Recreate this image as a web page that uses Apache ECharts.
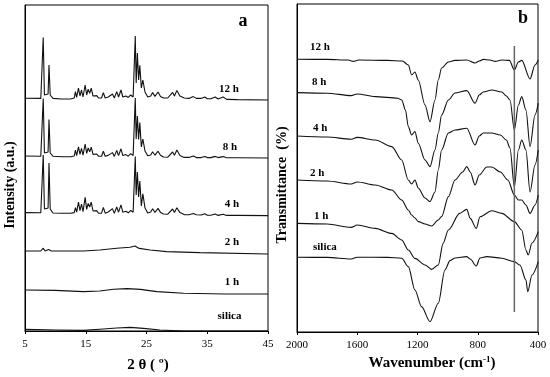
<!DOCTYPE html>
<html>
<head>
<meta charset="utf-8">
<script src="https://cdn.jsdelivr.net/npm/echarts@6/dist/echarts.min.js"></script>
<style>
html,body{margin:0;padding:0;background:#fff;}
#chart{width:550px;height:377px;}
</style>
</head>
<body>
<div id="chart"></div>
<script>
// ---------------- DATA ----------------
// Panel a: XRD (2θ in degrees, intensity in a.u., curves stacked)
const xrdTheta = [5.0,7.6,7.85,8.0,8.2,8.5,8.8,8.95,9.15,9.6,11,12.5,13.1,13.3,13.5,13.8,14.05,14.3,14.55,14.9,15.15,15.4,15.65,15.9,16.2,16.5,16.8,17.1,17.6,17.9,18.2,18.7,19.0,19.4,19.7,20.1,20.4,20.8,21.1,21.6,22.0,22.4,22.8,23.15,23.3,23.5,23.7,23.9,24.15,24.4,24.75,25.2,25.7,26.0,26.4,26.9,27.3,27.8,28.5,29.3,29.6,30.0,30.5,31.2,32.0,32.7,33.2,34.0,34.6,35.0,35.6,36.3,36.8,37.6,38.2,40,45];
const xrd12h = [116.4,116.3,117,146.8,118,117.3,118.5,133,118,116.3,116,116,116.5,119.7,116.8,121.4,117.5,120.5,117,123,118,120.9,118.8,121.4,117.5,116.8,117.7,116.5,116.5,119.2,116.5,117,116.5,118.5,116.5,119.7,117,120.5,117,117.5,116.8,118,117,147.5,124,139,125.5,132.8,121.5,125.5,119.5,117,117.5,119.2,117.3,119.5,117.3,116.5,116.5,119.3,117.5,120.3,117.5,116.5,116.3,117.2,116.3,116.3,117,116.1,116.1,117,116,117,115.8,115.7,115.5];
const xrd8h = [87.5,87.4,88.0,116.3,89.0,88.3,89.5,105.7,89.0,87.4,87.1,87.1,87.5,90.5,87.7,92.1,88.3,91.3,87.9,93.5,88.8,91.5,89.6,91.9,88.3,87.7,88.5,87.4,87.4,89.9,87.4,87.8,87.4,89.2,87.3,90.3,87.7,91.1,87.7,88.2,87.4,88.7,87.7,116.5,96,107.5,95.8,104.2,92.0,96.0,90.0,87.6,88.0,89.6,87.9,89.9,87.9,87.0,86.9,89.5,87.9,90.5,87.7,86.8,86.8,87.5,86.7,86.7,87.3,86.7,86.7,87.3,86.7,87.2,86.6,86.6,86.5];
const xrd4h = [59.2,59.1,59.8,88.0,61.0,60.5,61.5,84.0,61.0,59.0,58.9,58.9,59.2,61.7,59.4,64.4,60.2,63.5,59.7,66.8,60.8,63.8,62.0,64.4,60.0,59.3,60.2,58.9,58.9,61.8,58.9,59.5,58.9,61.2,58.8,62.0,59.4,63.1,59.4,59.9,59.1,60.3,59.4,87.2,68,79.5,67.0,75.0,62.5,68.6,61.6,59.0,59.5,61.1,59.3,61.3,59.3,58.5,58.4,61.0,59.3,61.6,59.2,58.2,58.1,58.8,58.1,58.0,58.6,57.9,57.9,58.5,57.8,58.4,57.8,57.8,57.7];
const xrd2hTheta = [5.0,7.6,8.0,8.3,8.9,9.3,14.6,17.3,20.1,22.3,23.1,23.8,25.6,28.3,33.8,45];
const xrd2h = [40,40,41.4,40,40.8,40,40,40.5,41.4,41.9,42.5,41.3,40.5,39.7,39.2,38.5];
const xrd1hTheta = [5,10,14.6,17.3,19.6,21.8,24.0,26.7,31.1,38,45];
const xrd1h = [20.5,20.3,19.7,20,20.9,21.2,20.8,19.7,18.9,18.5,18.5];
const xrdSilicaTheta = [5,10,14.6,17.3,20.1,22.3,24.5,27.2,31.1,45];
const xrdSilica = [0.8,0.5,0.3,0.9,1.5,1.8,1.3,0.5,0,0];

// Panel b: FTIR (wavenumber in cm-1, transmittance in a.u., curves stacked)
const ftir12hWn = [2000,1800,1660,1626,1590,1400,1300,1261,1239,1217,1195,1150,1117,1084,1062,1040,995,951,873,818,790,763,720,684,640,590,557,530,508,453,420,398];
const ftir12h = [136.4,136.3,136,135.3,136,135.8,135.5,133.5,128.5,130,126,113.5,105.2,116,126,132,135,135.8,136,134.5,135.5,136.3,136,135.3,136,135.8,131,135,135.8,126.5,133.5,136];
const ftir8hWn = [2000,1800,1640,1600,1480,1330,1305,1280,1261,1239,1217,1195,1150,1117,1084,1062,1040,995,951,873,818,790,763,707,640,610,586,557,530,508,480,453,420,398];
const ftir8h = [119.7,119.4,118.2,119,117.7,116.9,116,111,102.7,98.5,100.2,94.4,86,82.7,91,99.5,108.5,116,119.5,120.7,114.4,118.5,120,121,120,118,116,101,113.5,117.7,111,92.7,108.5,114.4];
const ftir4hWn = [2000,1800,1640,1600,1480,1371,1305,1261,1239,1217,1195,1150,1117,1084,1062,1040,995,951,873,818,790,763,707,650,610,586,557,530,508,480,453,420,398];
const ftir4h = [98,97.5,96.4,97.3,96,92.7,86,76,74,76,72,67,65.2,70,81,91,99.5,101,101.9,93.5,98,99.5,99.5,98.5,96,92,72.5,91,96,91,70,83.5,91];
const ftir2hWn = [2000,1800,1640,1600,1480,1371,1305,1261,1239,1217,1195,1150,1106,1062,1040,995,951,900,873,850,818,790,740,707,650,600,557,530,508,480,453,420,398];
const ftir2h = [76,75.5,74,75,73.5,71,66,61,58.5,57,55.2,54,53,56,57.7,67.7,76,80,82.7,80,73.5,78.5,82.5,82.5,80,76,68.5,66,66,63.5,59.3,63.5,68.5];
const ftir1hWn = [2000,1800,1640,1600,1480,1371,1305,1261,1217,1150,1106,1062,1030,995,920,873,850,810,785,707,640,557,508,480,465,440,398];
const ftir1h = [54.3,54,52.3,53.5,51.8,49.3,46,41,36.8,33.5,31.3,33.5,44.3,51,59.3,61.3,56.8,51.8,57.6,60.6,59.3,55.2,51,41,38.5,44.5,50.2];
const ftirSilicaWn = [2000,1800,1640,1600,1400,1305,1261,1217,1173,1117,1062,1018,984,950,873,850,810,785,740,640,557,520,480,468,440,398];
const ftirSilica = [37.4,37.3,36.5,37.4,37.3,36.9,32.7,21,12.7,5.2,14.4,31,35.7,37,37.7,36.5,33,37,37.7,36.9,35.2,33.5,26,20.2,28.5,35.2];

// Reference line in panel b
const markerWavenumber = 557;
const markerSpan = [10, 143];

// Texts
const sampleLabels = ['12 h', '8 h', '4 h', '2 h', '1 h', 'silica'];
const xrdTickValues = [5, 15, 25, 35, 45];
const ftirTickValues = [2000, 1600, 1200, 800, 400];

// ---------------- LAYOUT / STYLE ----------------
const serif = '"Liberation Serif", "Times New Roman", serif';
const lineColor = '#111';
const gridA = {left: 25, top: 5, width: 243, height: 326};
const gridB = {left: 297, top: 4, width: 241, height: 328};
const xrdLabelPos = [[229, 89], [230, 147], [232, 204], [232, 242], [232, 282], [229.5, 316]];
const ftirLabelPos = [[310, 47], [312, 82], [313, 128.5], [310, 173], [314, 216], [313, 247]];

function pairs(xs, ys) { return xs.map((x, i) => [x, ys[i]]); }

function xrdSeries(xs, ys) {
  return {type: 'line', xAxisIndex: 0, yAxisIndex: 0, data: pairs(xs, ys), showSymbol: false,
    lineStyle: {color: lineColor, width: 1.1}, silent: true};
}
function ftirSeries(xs, ys) {
  return {type: 'line', xAxisIndex: 1, yAxisIndex: 1, data: pairs(xs, ys), showSymbol: false,
    smooth: 0.3, smoothMonotone: 'x',
    lineStyle: {color: lineColor, width: 1.1}, silent: true};
}

const chart = echarts.init(document.getElementById('chart'), null, {renderer: 'canvas'});

const graphics = [];
sampleLabels.forEach((t, i) => {
  graphics.push({type: 'text', x: xrdLabelPos[i][0], y: xrdLabelPos[i][1],
    style: {text: t, font: 'bold 11px ' + serif, fill: '#000', align: 'center', verticalAlign: 'middle'}});
  graphics.push({type: 'text', x: ftirLabelPos[i][0], y: ftirLabelPos[i][1],
    style: {text: t, font: 'bold 11px ' + serif, fill: '#000', align: 'left', verticalAlign: 'middle'}});
});
graphics.push({type: 'text', x: 243, y: 21, style: {text: 'a', font: 'bold 18px ' + serif, fill: '#000', align: 'center', verticalAlign: 'middle'}});
graphics.push({type: 'text', x: 523, y: 18, style: {text: 'b', font: 'bold 18px ' + serif, fill: '#000', align: 'center', verticalAlign: 'middle'}});
graphics.push({type: 'text', x: 148, y: 365, style: {text: '2 θ ( º)', font: 'bold 15px ' + serif, fill: '#000', align: 'center', verticalAlign: 'middle'}});
graphics.push({type: 'text', x: 432, y: 363, style: {
  text: 'Wavenumber (cm{sup|-1})', font: 'bold 15px ' + serif, fill: '#000', align: 'center', verticalAlign: 'middle',
  rich: {sup: {font: 'bold 9px ' + serif, fill: '#000', verticalAlign: 'top', padding: [0, 0, 6, 0]}}}});
graphics.push({type: 'text', x: 10, y: 185, rotation: Math.PI / 2, style: {text: 'Intensity (a.u.)', font: 'bold 14px ' + serif, fill: '#000', align: 'center', verticalAlign: 'middle'}});
graphics.push({type: 'text', x: 282, y: 185, rotation: Math.PI / 2, style: {text: 'Transmittance  (%)', font: 'bold 14px ' + serif, fill: '#000', align: 'center', verticalAlign: 'middle'}});

const axisCommonX = {
  type: 'value', splitLine: {show: false},
  axisLine: {lineStyle: {color: '#000', width: 1}},
  axisTick: {show: true, inside: false, length: 3, lineStyle: {color: '#000'}},
  axisLabel: {fontFamily: serif, fontSize: 11, color: '#000', margin: 8, formatter: v => String(v)}
};
const axisCommonY = {
  type: 'value', splitLine: {show: false},
  axisLine: {show: true, lineStyle: {color: '#000', width: 1}},
  axisTick: {show: false}, axisLabel: {show: false}
};

chart.setOption({
  animation: false,
  backgroundColor: '#fff',
  grid: [
    Object.assign({show: true, borderColor: '#000', borderWidth: 1, containLabel: false}, gridA),
    Object.assign({show: true, borderColor: '#000', borderWidth: 1, containLabel: false}, gridB)
  ],
  xAxis: [
    Object.assign({}, axisCommonX, {gridIndex: 0, min: xrdTickValues[0], max: xrdTickValues[xrdTickValues.length - 1], interval: 10}),
    Object.assign({}, axisCommonX, {gridIndex: 1, min: ftirTickValues[ftirTickValues.length - 1], max: ftirTickValues[0], interval: 400, inverse: true})
  ],
  yAxis: [
    Object.assign({}, axisCommonY, {gridIndex: 0, min: 0, max: 163}),
    Object.assign({}, axisCommonY, {gridIndex: 1, min: 0, max: 164})
  ],
  series: [
    xrdSeries(xrdTheta, xrd12h),
    xrdSeries(xrdTheta, xrd8h),
    xrdSeries(xrdTheta, xrd4h),
    xrdSeries(xrd2hTheta, xrd2h),
    xrdSeries(xrd1hTheta, xrd1h),
    xrdSeries(xrdSilicaTheta, xrdSilica),
    ftirSeries(ftir12hWn, ftir12h),
    ftirSeries(ftir8hWn, ftir8h),
    ftirSeries(ftir4hWn, ftir4h),
    ftirSeries(ftir2hWn, ftir2h),
    ftirSeries(ftir1hWn, ftir1h),
    ftirSeries(ftirSilicaWn, ftirSilica),
    {type: 'line', xAxisIndex: 1, yAxisIndex: 1, showSymbol: false, silent: true,
      data: [[markerWavenumber, markerSpan[0]], [markerWavenumber, markerSpan[1]]],
      lineStyle: {color: '#666', width: 1.5}}
  ],
  graphic: graphics
});
</script>
</body>
</html>
